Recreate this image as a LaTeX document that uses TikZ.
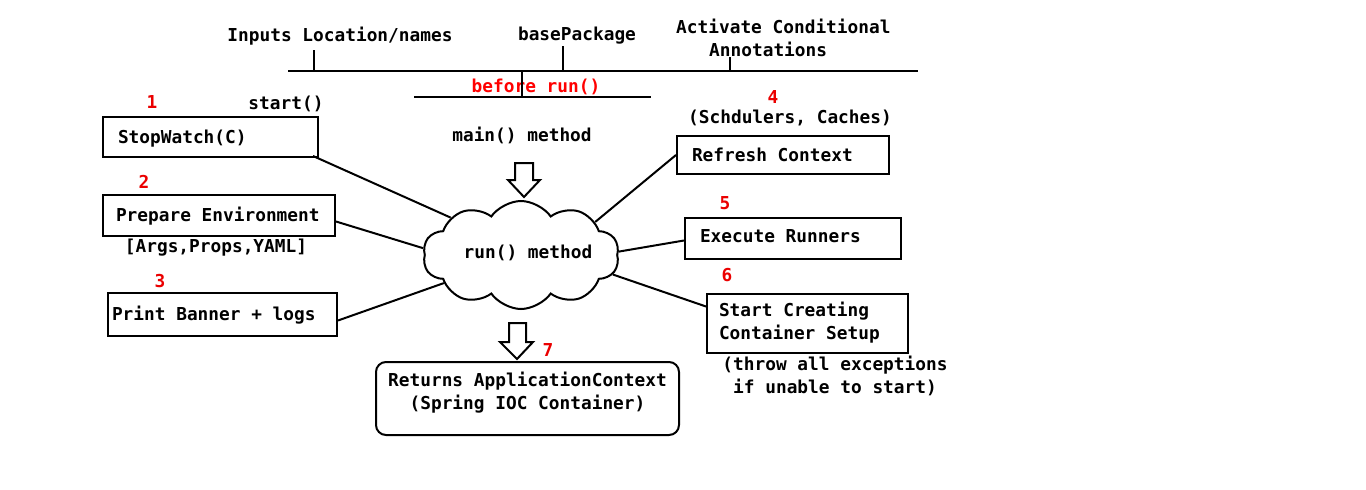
\documentclass[tikz,border=0pt]{standalone}
\usepackage{fontspec}
\setmonofont{DejaVu Sans Mono}
\usetikzlibrary{shapes.symbols,calc}
\definecolor{numred}{RGB}{235,0,0}
\begin{document}
\begin{tikzpicture}[x=1pt,y=-1pt,
  font=\ttfamily\bfseries\fontsize{17.8}{23}\selectfont,
  every node/.append style={execute at begin node={\spaceskip=\fontdimen2\font\relax}},
  lbl/.style={inner sep=0pt, text height=14pt, text depth=1.5pt},
  one/.style={text height=14pt, text depth=1.5pt},
  two/.style={inner sep=0pt, align=center},
  num/.style={lbl, text=numred},
  box/.style={draw, line width=2pt, inner ysep=0pt, align=left},
  ln/.style={line width=2pt},
  bigarrow/.style={draw, line width=2pt, fill=white, line join=miter}]
\useasboundingbox (0,0) rectangle (1366,490);
\fill[white] (0,0) rectangle (1366,490);

% top texts
\node[lbl] (inp) at (340,35) {Inputs Location/names};
\node[lbl] (bp) at (577,34) {basePackage};
\node[lbl, anchor=west] (act1) at (676,27) {Activate Conditional};
\node[lbl, anchor=west] (act2) at (709,50) {Annotations};
\node[lbl, text=red] (br) at (536,86) {before run()};

% timeline lines
\coordinate (t1a) at (288,71); \coordinate (t1b) at (918,71);
\coordinate (k1a) at (314,50); \coordinate (k1b) at (314,71);
\coordinate (k2a) at (563,46); \coordinate (k2b) at (563,71);
\coordinate (k3a) at (730,57); \coordinate (k3b) at (730,71);
\coordinate (t2a) at (414,97); \coordinate (t2b) at (651,97);
\coordinate (v1a) at (522,71); \coordinate (v1b) at (522,97);
\draw[ln] (t1a) -- (t1b);
\draw[ln] (k1a) -- (k1b);
\draw[ln] (k2a) -- (k2b);
\draw[ln] (k3a) -- (k3b);
\draw[ln] (t2a) -- (t2b);
\draw[ln] (v1a) -- (v1b);

% left side
\node[lbl] (start) at (286,103) {start()};
\node[num] (n1) at (152,102) {1};
\node[box, one, inner xsep=15pt, text width=185pt, minimum height=40pt] (sw) at (210.5,137) {StopWatch(C)};
\node[num] (n2) at (144,182) {2};
\node[box, one, inner xsep=13pt, text width=206pt, minimum height=41pt] (pe) at (219,215.5) {Prepare Environment};
\node[lbl] (args) at (216,246) {[Args,Props,YAML]};
\node[num] (n3) at (160,281) {3};
\node[box, one, inner xsep=4pt, text width=221pt, minimum height=43pt] (pb) at (222.5,314.5) {Print Banner + logs};

% center
\node[lbl] (main) at (522,135) {main() method};
\node[cloud, draw, line width=2pt, cloud puffs=10, cloud puff arc=110, aspect=1.8,
      minimum width=196pt, minimum height=108pt, inner sep=0pt] (run) at (521,255) {};
\node[lbl] (runt) at (528,252) {run() method};
\draw[bigarrow] (515,163) -- (533,163) -- (533,180) -- (540,180) -- (524,197) -- (508,180) -- (515,180) -- cycle;
\draw[bigarrow] (509,323) -- (526,323) -- (526,342) -- (533,342) -- (517,359) -- (500,342) -- (509,342) -- cycle;
\node[num] (n7) at (548,350) {7};
\node[draw, line width=2pt, rounded corners=10pt, minimum width=303pt, minimum height=73pt] (ret) at (527.5,398.5) {};
\node[two] (rett) at (527.5,392.5) {Returns ApplicationContext\\(Spring IOC Container)};

% right side
\node[num] (n4) at (773,97) {4};
\node[lbl] (sch) at (790,117) {(Schdulers, Caches)};
\node[box, one, inner xsep=15pt, text width=182pt, minimum height=38pt] (rc) at (783,155) {Refresh Context};
\node[num] (n5) at (725,203) {5};
\node[box, inner xsep=15pt, text width=186pt, minimum height=41pt, text height=12pt, text depth=3.5pt] (er) at (793,238.5) {Execute Runners};
\node[num] (n6) at (727,275) {6};
\node[box, inner xsep=12pt, text width=177pt, minimum height=59pt] (sc) at (807.5,323) {Start Creating\\Container Setup};
\node[two] (thr) at (835,376) {(throw all exceptions\\if unable to start)};

% connectors
\draw[ln] ($(sw.south east)+(-6,-2)$) -- (run.152);
\draw[ln] ($(pe.east)+(0,6)$) -- (run.176);
\draw[ln] ($(pb.east)+(0,6)$) -- (run.200);
\draw[ln] (rc.west) -- (run.24);
\draw[ln] ($(er.west)+(0,2)$) -- (run.2);
\draw[ln] ($(sc.north west)+(0,14)$) -- (run.-12);
\end{tikzpicture}
\end{document}
